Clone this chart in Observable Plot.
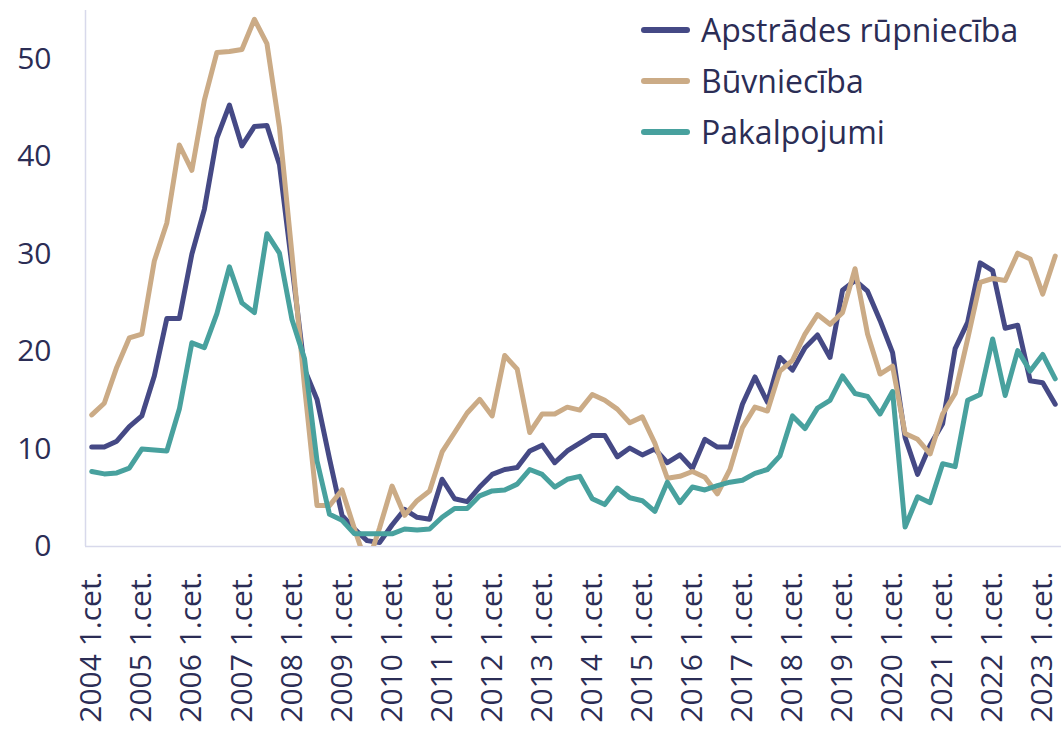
<!DOCTYPE html>
<html>
<head>
<meta charset="utf-8">
<script src="https://cdn.jsdelivr.net/npm/d3@7"></script>
<script src="https://cdn.jsdelivr.net/npm/@observablehq/plot@0.6"></script>
<style>
  body { margin: 0; background: #fff; }
  #wrap { position: relative; width: 1061px; height: 731px; font-family: "Open Sans", sans-serif; }
  #legend { position: absolute; left: 641px; top: 0; }
  .item { position: absolute; left: 0; height: 40px; display: flex; align-items: center; white-space: nowrap; }
  .item span { font-size: 32px; color: #2b2d55; margin-left: 11px; line-height: 40px; }
</style>
</head>
<body>
<div id="wrap"><div id="legend"></div></div>
<script>
const seriesNames = ["Apstrādes rūpniecība", "Būvniecība", "Pakalpojumi"];
const seriesColors = ["#454985", "#cbab86", "#48a19e"];
const years = [2004,2005,2006,2007,2008,2009,2010,2011,2012,2013,2014,2015,2016,2017,2018,2019,2020,2021,2022,2023];
const xTickLabels = years.map(y => y + " 1.cet.");
const yTicks = [0, 10, 20, 30, 40, 50];

const apstrades = [
  10.2, 10.2, 10.8, 12.3,
  13.4, 17.5, 23.4, 23.4,
  30.0, 34.6, 41.9, 45.3,
  41.1, 43.1, 43.2, 39.2,
  28.8, 18.2, 15.1, 9.0,
  3.2, 1.8, 0.6, 0.4,
  2.2, 3.8, 3.0, 2.8,
  6.9, 4.9, 4.6, 6.1,
  7.4, 7.9, 8.1, 9.8,
  10.4, 8.6, 9.8, 10.6,
  11.4, 11.4, 9.2, 10.1,
  9.4, 10.0, 8.6, 9.4,
  8.0, 11.0, 10.2, 10.2,
  14.6, 17.4, 14.8, 19.4,
  18.1, 20.4, 21.7, 19.4,
  26.3, 27.3, 26.2, 23.2,
  19.9, 11.2, 7.4, 10.4,
  12.6, 20.3, 23.0, 29.1,
  28.3, 22.4, 22.7, 17.0,
  16.8, 14.6
];
const buvnieciba = [
  13.5, 14.7, 18.4, 21.4,
  21.8, 29.3, 33.2, 41.2,
  38.6, 45.8, 50.7, 50.8,
  51.0, 54.1, 51.6, 43.0,
  30.0, 16.5, 4.2, 4.2,
  5.8, 1.8, -2.0, 1.9,
  6.2, 3.2, 4.7, 5.7,
  9.7, 11.7, 13.7, 15.1,
  13.4, 19.6, 18.2, 11.7,
  13.6, 13.6, 14.3, 14.0,
  15.6, 15.0, 14.1, 12.7,
  13.3, 10.6, 7.0, 7.2,
  7.7, 7.1, 5.4, 7.9,
  12.2, 14.3, 13.9, 18.0,
  19.1, 21.8, 23.8, 22.8,
  24.0, 28.5, 21.8, 17.7,
  18.5, 11.6, 11.0, 9.5,
  13.6, 15.7, 21.3, 27.1,
  27.5, 27.3, 30.1, 29.5,
  25.9, 29.8
];
const pakalpojumi = [
  7.7, 7.45, 7.55, 8.05,
  10.0, 9.9, 9.8, 14.1,
  20.9, 20.4, 23.9, 28.7,
  25.0, 24.0, 32.1, 30.1,
  23.3, 19.3, 8.8, 3.3,
  2.7, 1.3, 1.3, 1.3,
  1.3, 1.8, 1.7, 1.8,
  3.0, 3.9, 3.9, 5.2,
  5.7, 5.8, 6.4, 7.9,
  7.4, 6.1, 6.9, 7.2,
  4.9, 4.3, 6.0, 5.0,
  4.7, 3.6, 6.6, 4.5,
  6.1, 5.8, 6.25, 6.6,
  6.8, 7.5, 7.9, 9.3,
  13.4, 12.1, 14.2, 15.0,
  17.5, 15.7, 15.4, 13.6,
  15.9, 2.0, 5.1, 4.5,
  8.5, 8.2, 15.0, 15.6,
  21.3, 15.5, 20.1, 18.0,
  19.7, 17.2
];

const allSeries = [apstrades, buvnieciba, pakalpojumi];
const rows = [];
allSeries.forEach((vals, k) => vals.forEach((v, i) => rows.push({i, v, s: seriesNames[k]})));

const axisColor = "#d8d9eb";
const textColor = "#2b2d55";
const n = apstrades.length;

const chart = Plot.plot({
  width: 1061,
  height: 731,
  marginLeft: 85,
  marginRight: 0,
  marginTop: 10,
  marginBottom: 185,
  style: {fontFamily: "Open Sans, sans-serif", color: textColor, background: "transparent", overflow: "visible"},
  x: {domain: [-0.5, n - 0.5]},
  y: {domain: [0, 55]},
  color: {domain: seriesNames, range: seriesColors},
  marks: [
    Plot.axisY({ticks: yTicks, tickSize: 0, tickPadding: 34, label: null, fontSize: 30, fill: textColor}),
    Plot.axisX({ticks: years.map((y, k) => k * 4), tickFormat: (d) => xTickLabels[d / 4], tickRotate: -90, tickSize: 0, tickPadding: 25, label: null, fontSize: 30, fill: textColor}),
    Plot.ruleX([-0.5], {stroke: axisColor, strokeWidth: 1.5}),
    Plot.ruleY([0], {stroke: axisColor, strokeWidth: 1.5}),
    Plot.line(rows, {x: "i", y: "v", z: "s", stroke: "s", strokeWidth: 5, clip: true, strokeLinejoin: "round"})
  ]
});
document.getElementById("wrap").prepend(chart);

const legend = document.getElementById("legend");
seriesNames.forEach((name, k) => {
  const item = document.createElement("div");
  item.className = "item";
  item.style.top = (10 + k * 51) + "px";
  item.innerHTML = `<svg width="49" height="10"><line x1="3" y1="5" x2="46" y2="5" stroke="${seriesColors[k]}" stroke-width="6" stroke-linecap="round"/></svg><span>${name}</span>`;
  legend.appendChild(item);
});
</script>
</body>
</html>
